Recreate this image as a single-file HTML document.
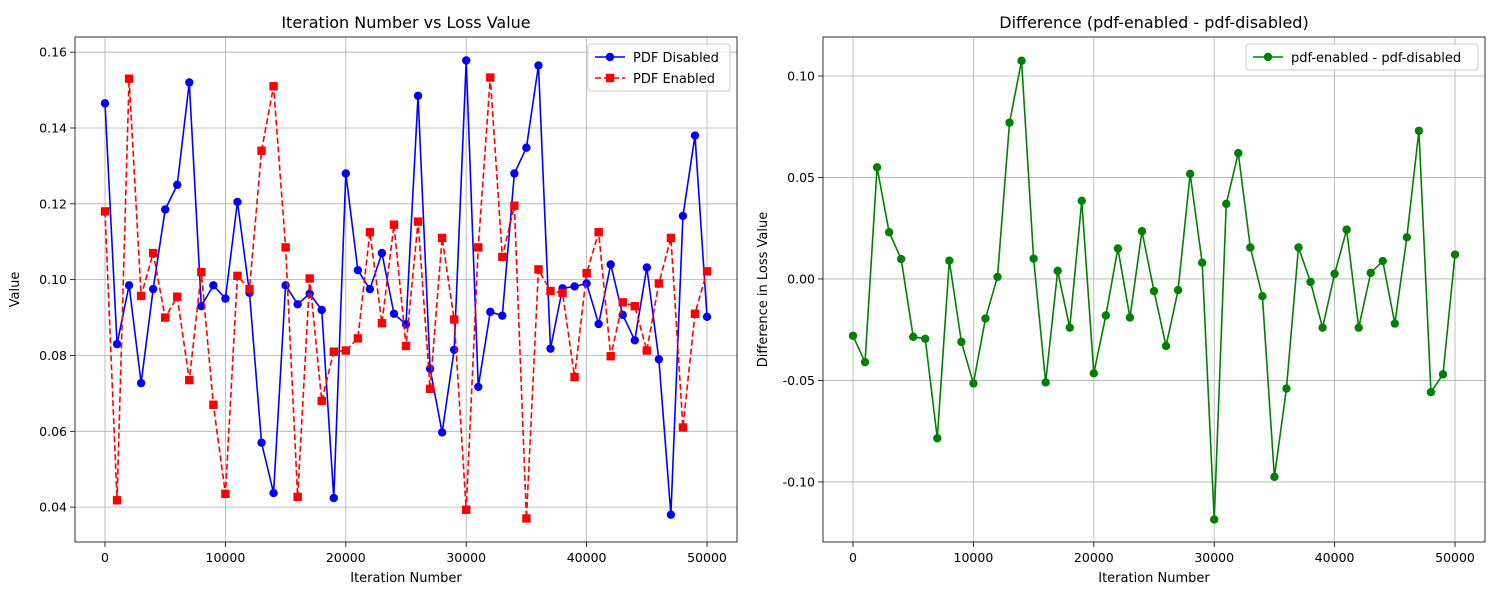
<!DOCTYPE html>
<html><head><meta charset="utf-8"><style>
body{margin:0;background:#fff;}
svg{font-family:"DejaVu Sans","Liberation Sans",sans-serif;}
</style></head><body>
<svg id="fig" width="1500" height="600" viewBox="0 0 1500 600"></svg>
<script>
const iterations = [];
for (let i = 0; i <= 50; i++) iterations.push(i * 1000);
const disabledLoss = [0.1465,0.083,0.0985,0.0727,0.0975,0.1185,0.125,0.152,0.093,0.0985,0.095,0.1205,0.0965,0.057,0.0437,0.0985,0.0935,0.0963,0.092,0.0424,0.128,0.1025,0.0975,0.107,0.091,0.0882,0.1485,0.0765,0.0597,0.0815,0.1578,0.0717,0.0915,0.0905,0.128,0.1348,0.1565,0.0818,0.0977,0.0982,0.099,0.0883,0.104,0.0907,0.084,0.1032,0.079,0.038,0.1168,0.138,0.0902];
const enabledLoss = [0.118,0.0418,0.153,0.0957,0.107,0.090,0.0955,0.0735,0.102,0.067,0.0435,0.101,0.0975,0.134,0.151,0.1085,0.0427,0.1003,0.068,0.081,0.0813,0.0845,0.1125,0.0885,0.1145,0.0825,0.1153,0.0712,0.111,0.0895,0.0393,0.1085,0.1533,0.106,0.1195,0.037,0.1027,0.097,0.0965,0.0743,0.1017,0.1125,0.0798,0.094,0.093,0.0813,0.099,0.111,0.061,0.091,0.1022];
const diffValues = [-0.028,-0.041,0.055,0.023,0.0098,-0.0285,-0.0295,-0.0785,0.009,-0.031,-0.0515,-0.0195,0.001,0.077,0.1075,0.010,-0.051,0.004,-0.024,0.0385,-0.0465,-0.018,0.015,-0.019,0.0235,-0.006,-0.033,-0.0055,0.0518,0.008,-0.1185,0.037,0.062,0.0155,-0.0085,-0.0975,-0.054,0.0155,-0.0015,-0.024,0.0025,0.0243,-0.024,0.003,0.0088,-0.022,0.0205,0.073,-0.0558,-0.047,0.012];
const xTicks = [0,10000,20000,30000,40000,50000];
const leftYTicks = [0.04,0.06,0.08,0.10,0.12,0.14,0.16];
const rightYTicks = [-0.10,-0.05,0.00,0.05,0.10];

const NS = "http://www.w3.org/2000/svg";
const svg = document.getElementById('fig');
function mk(tag, attrs, parent){ const e=document.createElementNS(NS,tag); for(const k in attrs) e.setAttribute(k,attrs[k]); (parent||svg).appendChild(e); return e; }

function panel(L, T, R, B, xmin, xmax, ymin, ymax, yTicks, yFmt, title, ylabel, prefix){
  const g = mk('g',{});
  
  
  const sx = v => L + (v - xmin) / (xmax - xmin) * (R - L);
  const sy = v => B - (v - ymin) / (ymax - ymin) * (B - T);
  xTicks.forEach(t => {
    const gl = mk('line',{x1:sx(t),x2:sx(t),y1:T,y2:B,stroke:'#b0b0b0','stroke-width':0.8},g);
    
    
    mk('line',{x1:sx(t),x2:sx(t),y1:B,y2:B+5,stroke:'#000','stroke-width':0.8},g);
    const tx = mk('text',{x:sx(t),y:B+20,'font-size':12.5,'text-anchor':'middle',fill:'#000'},g);
    tx.textContent = t;
    
    
  });
  yTicks.forEach(t => {
    const gl = mk('line',{x1:L,x2:R,y1:sy(t),y2:sy(t),stroke:'#b0b0b0','stroke-width':0.8},g);
    
    
    mk('line',{x1:L-5,x2:L,y1:sy(t),y2:sy(t),stroke:'#000','stroke-width':0.8},g);
    const tx = mk('text',{x:L-8,y:sy(t)+4.5,'font-size':12.5,'text-anchor':'end',fill:'#000'},g);
    tx.textContent = yFmt(t);
    
    
  });
  const frame = mk('rect',{x:L,y:T,width:R-L,height:B-T,fill:'none',stroke:'#000','stroke-width':0.8},g);
  
  
  const ti = mk('text',{x:(L+R)/2,y:T-9,'font-size':16,'text-anchor':'middle',fill:'#000'},g);
  ti.textContent = title;
  
  
  const xl = mk('text',{x:(L+R)/2,y:B+40,'font-size':13,'text-anchor':'middle',fill:'#000'},g);
  xl.textContent = 'Iteration Number';
  
  
  const yx = L-56, yy=(T+B)/2;
  const yl = mk('text',{x:yx,y:yy,'font-size':13,'text-anchor':'middle',fill:'#000',transform:`rotate(-90 ${yx} ${yy})`},g);
  yl.textContent = ylabel;
  
  
  return {g, sx, sy};
}

function series(p, vals, color, dash, marker, name){
  const pts = vals.map((v,i)=>p.sx(iterations[i])+','+p.sy(v)).join(' ');
  const pl = mk('polyline',{points:pts,fill:'none',stroke:color,'stroke-width':1.6,'stroke-dasharray':dash||'none'},p.g);
  
  
  vals.forEach((v,i)=>{
    let m;
    if(marker==='o') m = mk('circle',{cx:p.sx(iterations[i]),cy:p.sy(v),r:4.2,fill:color},p.g);
    else m = mk('rect',{x:p.sx(iterations[i])-4.2,y:p.sy(v)-4.2,width:8.4,height:8.4,fill:color},p.g);
    
    
  });
}

const left = panel(75,37,737,542,-2492,52490,0.0308,0.164,leftYTicks,t=>t.toFixed(2),'Iteration Number vs Loss Value','Value','loss');
series(left, disabledLoss, '#0000ff', null, 'o', 'pdf-disabled');
series(left, enabledLoss, '#ff0000', '6,3', 's', 'pdf-enabled');

const right = panel(823,37,1485,542,-2492,52490,-0.1296,0.1192,rightYTicks,t=>t.toFixed(2),'Difference (pdf-enabled - pdf-disabled)','Difference in Loss Value','difference');
series(right, diffValues, '#008000', null, 'o', 'difference');

function legend(x,y,w,entries,name){
  const g = mk('g',{});
  
  
  mk('rect',{x:x,y:y,width:w,height:entries.length*21+5,rx:3,fill:'#fff','fill-opacity':0.8,stroke:'#ccc','stroke-width':1},g);
  entries.forEach((e,i)=>{
    const cy = y+13+i*21;
    const en = mk('g',{},g);
    
    
    mk('line',{x1:x+7,x2:x+37,y1:cy,y2:cy,stroke:e.c,'stroke-width':1.6,'stroke-dasharray':e.d||'none'},en);
    if(e.m==='o') mk('circle',{cx:x+22,cy:cy,r:4.2,fill:e.c},en);
    else mk('rect',{x:x+17.8,y:cy-4.2,width:8.4,height:8.4,fill:e.c},en);
    const t = mk('text',{x:x+45,y:cy+5,'font-size':13,fill:'#000'},en);
    t.textContent = e.t;
  });
}
legend(588,44,142,[{c:'#0000ff',m:'o',t:'PDF Disabled'},{c:'#ff0000',m:'s',d:'6,3',t:'PDF Enabled'}],'loss-legend');
legend(1246,44,232,[{c:'#008000',m:'o',t:'pdf-enabled - pdf-disabled'}],'difference-legend');
</script>
</body></html>
